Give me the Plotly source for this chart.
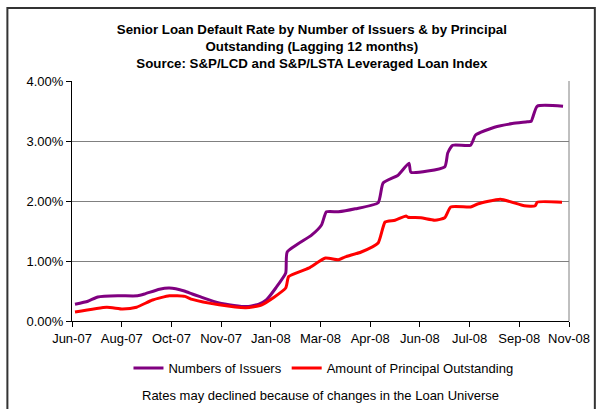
import plotly.graph_objects as go

# Time axis in tick periods (0 = Jun-07 ... 10 = Nov-08)
tick_labels = ["Jun-07", "Aug-07", "Oct-07", "Nov-07", "Jan-08", "Mar-08",
               "Apr-08", "Jun-08", "Jul-08", "Sep-08", "Nov-08"]

issuers_t = [0.06, 0.32, 0.52, 0.92, 1.32, 1.46, 1.76, 1.96, 2.26, 2.42, 2.56, 2.96,
             3.26, 3.50, 3.76, 3.91, 4.10, 4.30, 4.33, 4.82, 5.02, 5.12, 5.36,
             5.70, 6.16, 6.26, 6.56, 6.78, 6.82, 7.50, 7.56, 7.66, 8.02, 8.12,
             8.50, 8.86, 9.16, 9.24, 9.36, 9.88]
issuers_v = [0.28, 0.33, 0.40, 0.42, 0.42, 0.45, 0.53, 0.55, 0.50, 0.45, 0.41, 0.30,
             0.26, 0.24, 0.28, 0.35, 0.55, 0.80, 1.15, 1.43, 1.60, 1.82, 1.82,
             1.87, 1.97, 2.30, 2.43, 2.63, 2.48, 2.57, 2.80, 2.93, 2.93, 3.10,
             3.23, 3.29, 3.32, 3.33, 3.58, 3.58]

principal_t = [0.06, 0.70, 1.02, 1.30, 1.62, 1.96, 2.27, 2.42, 2.96, 3.50, 3.82,
               4.30, 4.36, 4.76, 5.10, 5.36, 5.50, 5.82, 6.16, 6.30, 6.50, 6.72,
               6.76, 7.02, 7.30, 7.50, 7.62, 8.02, 8.16, 8.62, 9.10, 9.32,
               9.36, 9.86]
principal_v = [0.15, 0.23, 0.20, 0.23, 0.35, 0.42, 0.41, 0.36, 0.27, 0.22, 0.27,
               0.55, 0.74, 0.88, 1.05, 1.02, 1.07, 1.15, 1.30, 1.65, 1.68, 1.75,
               1.73, 1.72, 1.68, 1.72, 1.90, 1.90, 1.95, 2.03, 1.92, 1.92,
               1.98, 1.98]

y_ticks = [0, 1, 2, 3, 4]
y_tick_labels = ["0.00%", "1.00%", "2.00%", "3.00%", "4.00%"]

FONT = "Liberation Sans, Arial, sans-serif"

fig = go.Figure()
fig.add_trace(go.Scatter(x=issuers_t, y=issuers_v, mode="lines",
                         name="Numbers of Issuers",
                         line=dict(color="#800080", width=3, shape="spline", smoothing=0.5)))
fig.add_trace(go.Scatter(x=principal_t, y=principal_v, mode="lines",
                         name="Amount of Principal Outstanding",
                         line=dict(color="#FF0000", width=3, shape="spline", smoothing=0.5)))

fig.update_layout(
    width=602, height=409,
    margin=dict(l=72, r=30, t=81, b=88),
    paper_bgcolor="white", plot_bgcolor="white",
    font=dict(family=FONT, size=13, color="black"),
    title=dict(
        text="<b>Senior Loan Default Rate by Number of Issuers & by Principal<br>"
             "Outstanding (Lagging 12 months)<br>"
             "Source: S&P/LCD and S&P/LSTA Leveraged Loan Index</b>",
        x=0.518, xanchor="center", y=0.918, yanchor="top",
        font=dict(family=FONT, size=13.3, color="black")),
    showlegend=True,
    legend=dict(orientation="h", x=0.506, xanchor="center", y=-0.134, yanchor="top",
                font=dict(family=FONT, size=13), itemwidth=30, tracegroupgap=0,
                bgcolor="rgba(0,0,0,0)"),
    xaxis=dict(range=[0, 10], tickmode="array", tickvals=list(range(11)),
               ticktext=tick_labels, showgrid=False, zeroline=False,
               showline=True, linecolor="black", linewidth=1,
               ticks="outside", ticklen=5, tickcolor="black",
               tickfont=dict(family=FONT, size=13)),
    yaxis=dict(range=[0, 4], tickmode="array", tickvals=y_ticks,
               ticktext=y_tick_labels, showgrid=True, gridcolor="#808080",
               gridwidth=1, zeroline=False, showline=True, linecolor="black",
               linewidth=1, ticks="outside", ticklen=5, tickcolor="black",
               tickfont=dict(family=FONT, size=13)),
)

# right plot border (gray)
fig.add_shape(type="line", xref="paper", yref="paper", x0=1, x1=1, y0=0, y1=1,
              line=dict(color="#808080", width=1))
# outer chart frame
fig.add_shape(type="rect", xref="paper", yref="paper",
              x0=(7 - 72) / 500, x1=(598 - 72) / 500,
              y0=-0.45, y1=(321 - 8) / 240,
              line=dict(color="#333333", width=2), fillcolor="rgba(0,0,0,0)")

fig.add_annotation(text="Rates may declined because of changes in the Loan Universe",
                   xref="paper", yref="paper", x=(322 - 72) / 500, y=(321 - 395) / 240,
                   xanchor="center", yanchor="middle", showarrow=False,
                   font=dict(family=FONT, size=13, color="black"))

fig.write_html("out.html", config={"displayModeBar": False},
               post_script="document.body.style.margin='0';document.body.style.overflow='hidden';")
